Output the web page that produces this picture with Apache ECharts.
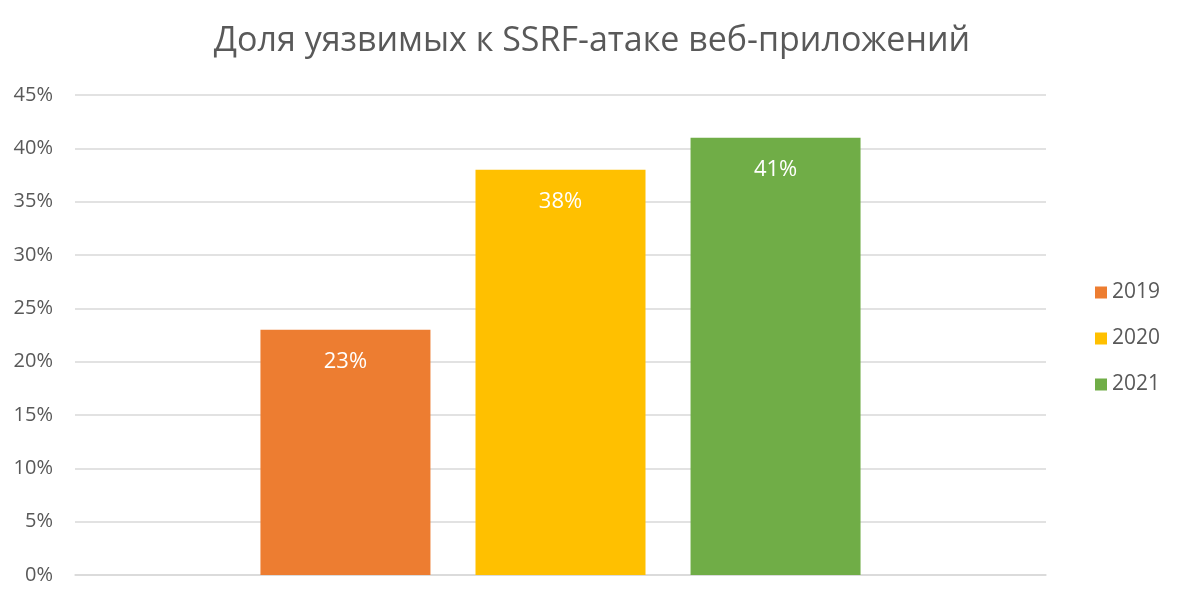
<!DOCTYPE html>
<html>
<head>
<meta charset="utf-8">
<script src="https://cdn.jsdelivr.net/npm/echarts@6/dist/echarts.min.js"></script>
<style>html,body{margin:0;padding:0;background:#fff}#c{width:1184px;height:608px}</style>
</head>
<body>
<div id="c"></div>
<script>
const titleText = 'Доля уязвимых к SSRF-атаке веб-приложений';
const categories = [''];
const seriesNames = ['2019', '2020', '2021'];
const values2019 = [23];
const values2020 = [38];
const values2021 = [41];
const colors = ['#ED7D31', '#FFC000', '#70AD47'];

const font = '"Open Sans", "Noto Sans", sans-serif';
const chart = echarts.init(document.getElementById('c'));
const valueSets = [values2019, values2020, values2021];
chart.setOption({
  animation: false,
  title: {
    text: titleText, left: 'center', top: 19,
    textStyle: { fontFamily: font, fontSize: 34, fontWeight: 'normal', color: '#595959' }
  },
  legend: {
    orient: 'vertical', left: 1090, top: 277, itemWidth: 12, itemHeight: 12, itemGap: 25,
    icon: 'rect',
    textStyle: { fontFamily: font, fontSize: 21, color: '#595959' },
    data: seriesNames
  },
  grid: { left: 75, right: 138, top: 95, bottom: 33 },
  xAxis: {
    type: 'category', data: categories,
    axisLine: { lineStyle: { color: '#D9D9D9', width: 1.5 } },
    axisTick: { show: false }, axisLabel: { show: false }
  },
  yAxis: {
    type: 'value', min: 0, max: 45, interval: 5,
    axisLabel: { formatter: '{value}%', fontFamily: font, fontSize: 20, color: '#595959', margin: 22 },
    splitLine: { lineStyle: { color: '#D9D9D9', width: 1.5 } },
    axisLine: { show: false }, axisTick: { show: false }
  },
  series: seriesNames.map((n, i) => ({
    name: n, type: 'bar', data: valueSets[i], barWidth: 170, barGap: '26.5%',
    itemStyle: { color: colors[i] },
    label: { show: true, position: 'insideTop', distance: 21, formatter: '{c}%',
      fontFamily: font, fontSize: 22, color: '#fff' }
  }))
});
</script>
</body>
</html>
